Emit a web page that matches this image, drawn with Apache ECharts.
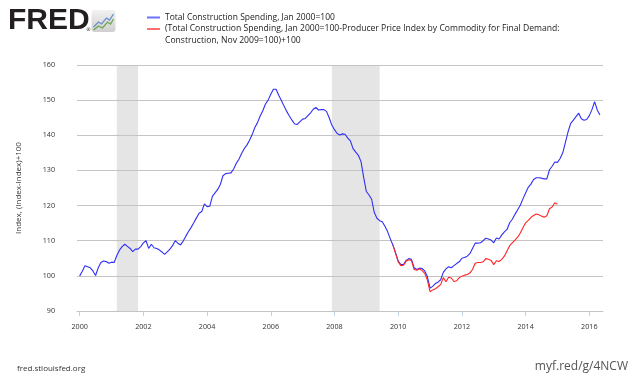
<!DOCTYPE html>
<html><head><meta charset="utf-8">
<script src="https://cdn.jsdelivr.net/npm/echarts@6/dist/echarts.min.js"></script>
<style>html,body{margin:0;padding:0;background:#fff}#c{width:630px;height:378px}</style>
</head><body><div id="c"></div>
<script>
// ---- data ----
const spendingStart = [2000, 1]; // Jan 2000
const spending = [
  100.0, 101.3, 102.9, 102.6, 102.3, 101.4, 100.1, 102.3, 103.8, 104.2, 104.1, 103.6,
  103.9, 103.8, 105.8, 107.3, 108.3, 109.0, 108.4, 107.8, 106.9, 107.6, 107.6, 108.3,
  109.4, 110.0, 107.8, 109.0, 108.0, 107.8, 107.4, 106.8, 106.1, 106.8, 107.6, 108.6,
  110.0, 109.3, 108.8, 109.9, 111.3, 112.6, 113.8, 115.1, 116.5, 117.8, 118.3, 120.5,
  119.7, 119.8, 122.6, 123.6, 124.6, 126.0, 128.5, 129.1, 129.2, 129.3, 130.4, 132.0,
  133.2, 134.8, 136.2, 137.2, 138.6, 140.2, 142.2, 143.6, 145.5, 147.0, 148.9, 150.0,
  151.7, 153.1, 153.1, 151.4, 149.9, 148.3, 146.8, 145.5, 144.3, 143.2, 143.1, 143.9,
  144.6, 144.8, 145.6, 146.4, 147.4, 147.9, 147.2, 147.3, 147.3, 146.8, 145.0, 142.9,
  141.6, 140.5, 140.1, 140.4, 140.3, 139.2, 138.4, 136.2, 135.2, 134.3, 132.5, 128.0,
  124.0, 123.0, 121.8, 118.0, 116.4, 115.7, 115.4, 114.1, 112.6, 110.6, 108.8, 106.6,
  104.2, 103.2, 103.2, 104.4, 104.9, 104.7, 102.3, 101.8, 102.2, 102.1, 101.4, 99.8,
  96.5, 97.0, 97.8, 98.2, 98.9, 101.0, 102.0, 102.6, 102.3, 102.9, 103.5, 104.0,
  105.0, 105.2, 105.6, 106.3, 107.8, 109.3, 109.3, 109.4, 110.0, 110.7, 110.5, 110.2,
  109.4, 110.8, 110.5, 111.6, 112.5, 113.2, 115.1, 116.1, 117.5, 118.8, 120.1, 121.9,
  123.6, 125.2, 126.1, 127.4, 127.9, 127.9, 127.8, 127.6, 127.6, 130.2, 131.2, 132.4,
  132.3, 133.4, 135.0, 138.0, 141.0, 143.4, 144.3, 145.3, 146.3, 144.7, 144.3, 144.5,
  145.6, 147.3, 149.6, 147.2, 145.8
];
const adjustedStart = [2009, 11]; // Nov 2009
const adjusted = [
  108.8, 106.4,
  104.0, 102.9, 103.0, 104.2, 104.6, 104.4, 101.8, 101.6, 102.0, 101.5, 100.7, 98.8,
  95.5, 96.0, 96.3, 96.9, 97.5, 99.5, 98.3, 99.6, 99.4, 98.4, 98.6, 99.5,
  99.9, 100.2, 100.4, 100.8, 101.8, 103.6, 103.8, 103.8, 104.0, 104.9, 104.7, 104.4,
  103.2, 104.3, 104.1, 104.7, 105.6, 107.1, 108.6, 109.4, 110.2, 111.0, 112.2, 113.7,
  115.1, 115.8, 116.6, 117.2, 117.6, 117.4, 117.0, 116.7, 117.1, 119.1, 119.6, 120.8,
  120.4
];
const xTickYears = [2000, 2002, 2004, 2006, 2008, 2010, 2012, 2014, 2016];
const recessions = [[[2001, 3], [2001, 11]], [[2007, 12], [2009, 6]]]; // [year, month] start/end
const seriesNames = ['Total Construction Spending, Jan 2000=100',
  '(Total Construction Spending, Jan 2000=100-Producer Price Index by Commodity for Final Demand:\nConstruction, Nov 2009=100)+100'];

// ---- helpers: month -> fractional year position on the time axis ----
const ym = (y, m) => y + (m - 1) / 12;
function monthly(start, vals) {
  return vals.map((v, i) => [ym(start[0], start[1]) + i / 12, v]);
}

const chart = echarts.init(document.getElementById('c'), null, {renderer: 'canvas'});
const FONT = 'Open Sans';
chart.setOption({
  animation: false,
  backgroundColor: '#ffffff',
  textStyle: {fontFamily: FONT},
  grid: {left: 77, right: 27, top: 65, bottom: 67, containLabel: false},
  legend: [
    {data: [seriesNames[0]], left: 147, top: 13, padding: 0, icon: 'rect', itemWidth: 13, itemHeight: 2,
     textStyle: {fontSize: 8.5, color: '#222', fontFamily: FONT}},
    {data: [seriesNames[1]], left: 147, top: 11, padding: 0, icon: 'rect', itemWidth: 13, itemHeight: 2,
     formatter: n => '\n' + n, textStyle: {fontSize: 8.6, lineHeight: 12, color: '#222', fontFamily: FONT}}
  ],
  xAxis: {
    type: 'value', min: ym(1999, 12), max: 2016.43, scale: true,
    axisLine: {lineStyle: {color: '#c0d0e0', width: 1}},
    axisTick: {show: true, length: 5, lineStyle: {color: '#c0d0e0'}, customValues: xTickYears},
    axisLabel: {customValues: xTickYears, margin: 12, fontSize: 7.2, color: '#333', fontFamily: FONT,
      formatter: v => String(Math.round(v))},
    splitLine: {show: false}
  },
  yAxis: {
    type: 'value', min: 90, max: 160, interval: 10, z: 1.5,
    name: 'Index, (Index-Index)+100', nameLocation: 'middle', nameGap: 54, nameRotate: 90,
    nameTextStyle: {fontSize: 8, color: '#333', fontFamily: FONT},
    axisLine: {show: false}, axisTick: {show: false},
    axisLabel: {margin: 22, fontSize: 7.2, color: '#333', fontFamily: FONT},
    splitLine: {lineStyle: {color: '#c4c4c4', width: 1}}
  },
  series: [
    {name: seriesNames[0], type: 'line', data: monthly(spendingStart, spending), showSymbol: false,
     symbol: 'none', lineStyle: {color: '#2f2ff5', width: 1.1}, itemStyle: {color: '#6f6fff'}, z: 2,
     markArea: {silent: true, itemStyle: {color: '#e5e5e5'},
       data: recessions.map(r => [{xAxis: ym(r[0][0], r[0][1])}, {xAxis: ym(r[1][0], r[1][1])}])}},
    {name: seriesNames[1], type: 'line', data: monthly(adjustedStart, adjusted), showSymbol: false,
     symbol: 'none', lineStyle: {color: '#ff2525', width: 1.1}, itemStyle: {color: '#ff6f6f'}, z: 3}
  ],
  graphic: [
    {type: 'text', left: 8, top: 6, style: {text: 'FRED', font: 'bold 30px "Liberation Sans"', fill: '#231f20'}},
    {type: 'text', left: 86, top: 27, style: {text: '®', font: '5px "DejaVu Sans"', fill: '#231f20'}},
    {type: 'group', left: 91, top: 10, children: [
      {type: 'rect', shape: {x: 0, y: 0, width: 24, height: 22, r: 3},
       style: {fill: new echarts.graphic.LinearGradient(0, 0, 0, 1, [{offset: 0, color: '#f2f2f2'}, {offset: 1, color: '#cfcfcf'}])}},
      {type: 'polyline', shape: {points: [[2, 17], [7, 12], [10, 14], [15, 8], [18, 10], [22, 4]]}, style: {stroke: '#6a8fc8', lineWidth: 1.3, fill: null}},
      {type: 'polyline', shape: {points: [[2, 20], [7, 16], [11, 18], [16, 12], [19, 14], [22, 9]]}, style: {stroke: '#6aa84f', lineWidth: 1.3, fill: null}}
    ]},
    {type: 'text', left: 17, top: 365, style: {text: 'fred.stlouisfed.org', font: '8px "Open Sans"', fill: '#333'}},
    {type: 'text', right: 2, top: 361, style: {text: 'myf.red/g/4NCW', font: '12px "Open Sans"', fill: '#555'}}
  ]
});
</script></body></html>
